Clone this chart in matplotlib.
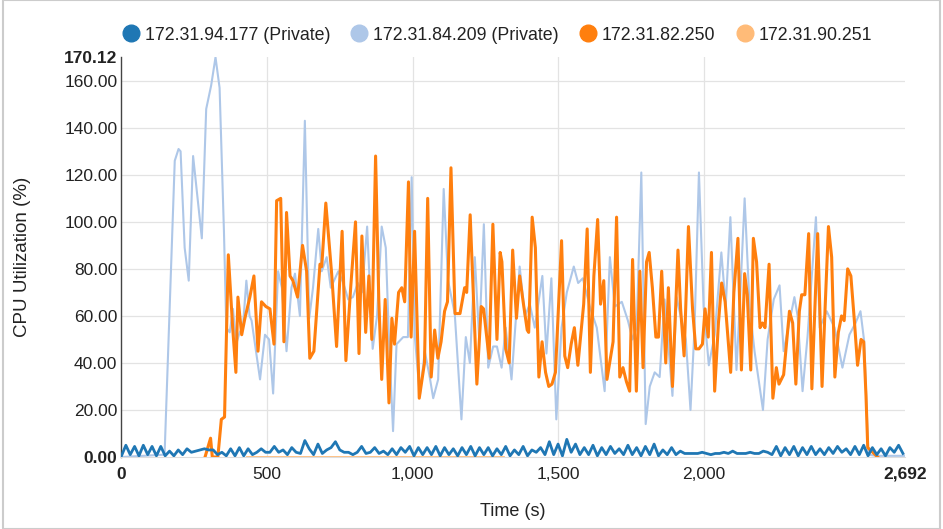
import numpy as np
import matplotlib
matplotlib.use("Agg")
import matplotlib.pyplot as plt
from matplotlib.lines import Line2D
from matplotlib.patches import Rectangle

plt.rcParams['font.family'] = ['Liberation Sans', 'DejaVu Sans']

series_names = ["172.31.94.177 (Private)", "172.31.84.209 (Private)",
                "172.31.82.250", "172.31.90.251"]
colors = ["#1f77b4", "#aec7e8", "#ff7f0e", "#ffbb78"]

# 172.31.94.177 (Private) - sampled every 15 s
dark_t = list(range(0, 2686, 15))
dark_v = [0.5, 5, 1, 4.5, 0.5, 5, 1, 4.5, 0.5, 4.5, 0.5,
          2.5, 0.5, 3, 1, 3.5, 2, 2.5, 3, 3.5, 3,
          3, 1, 2, 0.5, 3.5, 0.5, 4, 0.5, 3.5, 1,
          2, 3.5, 2, 2, 4.5, 2, 3, 1, 4, 2,
          1.5, 7, 3.5, 1, 5.5, 1.5, 3, 4, 6.5, 3,
          2, 2, 1, 2, 4.5, 1.5, 2, 4, 1.5, 2.5,
          1, 3.5, 1, 4, 2, 4.5, 0.5, 4, 1, 4,
          1, 4.5, 0.5, 4, 1, 3.5, 0.5, 4, 1, 4.5,
          0.5, 4, 1, 4, 0.5, 3.5, 1, 4.5, 0.5, 3,
          1, 4.5, 0.5, 3, 2, 4, 1, 6.5, 1, 5.5,
          0.5, 7.5, 2, 5.5, 1, 4, 1, 5, 0.5, 4,
          1, 4.5, 1.5, 3.5, 1, 5, 1, 4, 0.5, 4.5,
          1, 5.5, 0.5, 3, 1, 4, 1, 2.5, 1.5, 1.5,
          1.5, 1.5, 2, 1.5, 1, 1.5, 1.5, 2, 1.5, 2.5,
          1.5, 1.5, 1.5, 2, 1.5, 1.5, 2.5, 2, 1, 4.5,
          0.5, 4, 1, 4.5, 0.5, 4, 1, 4.5, 1, 3.5,
          1, 4, 1.5, 4.5, 2, 3.5, 1, 4.5, 1, 5,
          0.5, 4, 1, 3.5, 0.5, 4, 2, 5, 1.5]

# 172.31.84.209 (Private)
light_t = [0, 148, 183, 196, 203, 217, 231, 246, 263, 276, 291, 308, 323, 337, 352,
           360, 372, 383, 394, 406, 417, 429, 440, 447, 462, 476, 493, 507, 521, 538,
           551, 567, 584, 596, 613, 630, 645, 658, 676, 688, 705, 719, 745, 762, 779,
           795, 812, 826, 844, 863, 878, 894, 908, 919, 933, 945, 968, 984, 997, 1008,
           1025, 1042, 1059, 1071, 1088, 1107, 1122, 1145, 1168, 1183, 1197, 1214, 1229,
           1245, 1260, 1277, 1290, 1306, 1320, 1340, 1368, 1386, 1403, 1420, 1446, 1460,
           1477, 1494, 1512, 1530, 1554, 1569, 1585, 1609, 1633, 1660, 1678, 1695, 1719,
           1740, 1756, 1770, 1786, 1801, 1815, 1832, 1849, 1866, 1893, 1907, 1921, 1939,
           1955, 1969, 1984, 2000, 2018, 2038, 2061, 2076, 2092, 2113, 2124, 2141, 2158,
           2175, 2204, 2220, 2241, 2261, 2275, 2312, 2323, 2340, 2357, 2386, 2399, 2423,
           2450, 2477, 2501, 2522, 2539, 2552, 2566, 2593, 2690]
light_v = [0, 1, 126, 131, 130, 89, 75, 128, 108, 93, 148, 158, 170, 157, 96,
           55, 53, 63, 48, 53, 55, 75, 60, 58, 45, 33, 52, 50, 27, 79,
           72, 45, 72, 78, 60, 143, 59, 72, 97, 79, 85, 72, 79, 74, 67,
           68, 74, 70, 98, 46, 60, 98, 89, 50, 11, 48, 51, 51, 119, 51,
           26, 45, 34, 25, 33, 114, 75, 61, 16, 51, 40, 85, 50,
           99, 38, 47, 47, 38, 55, 33, 81, 60, 65, 55, 77, 44,
           76, 16, 55, 70, 81, 74, 76, 64, 55, 28, 85, 64, 66,
           58, 50, 55, 121, 14, 30, 36, 34, 67, 26, 68, 60, 50,
           20, 55, 121, 64, 39, 52, 87, 64, 102, 37, 64, 110, 64,
           45, 20, 50, 67, 73, 45, 68, 60, 28, 51, 102, 55, 62,
           55, 38, 52, 57, 62, 49, 1, 0.5, 0.5]

# 172.31.82.250
orange_t = [287, 306, 312, 331, 343, 354, 367, 382, 393, 400, 413, 424, 441, 455, 469,
            481, 496, 510, 524, 533, 547, 558, 567, 579, 589, 605, 622, 636, 647, 661,
            682, 688, 702, 722, 739, 758, 771, 788, 804, 816, 826, 839, 850, 860, 873,
            884, 894, 906, 919, 929, 938, 952, 963, 973, 986, 995, 1007, 1023, 1041, 1052,
            1064, 1076, 1087, 1098, 1110, 1120, 1132, 1146, 1163, 1179, 1186, 1198, 1221,
            1236, 1244, 1263, 1276, 1290, 1301, 1307, 1320, 1332, 1344, 1357, 1368, 1380,
            1394, 1399, 1411, 1422, 1434, 1445, 1457, 1468, 1479, 1491, 1512, 1523, 1533,
            1545, 1556, 1568, 1588, 1600, 1611, 1623, 1636, 1646, 1657, 1668, 1689, 1701,
            1712, 1723, 1735, 1746, 1756, 1769, 1781, 1792, 1804, 1813, 1824, 1836, 1845,
            1856, 1870, 1879, 1893, 1912, 1921, 1933, 1948, 1962, 1973, 1984, 1996, 2005,
            2016, 2027, 2038, 2051, 2062, 2074, 2093, 2104, 2118, 2130, 2141, 2150, 2162,
            2171, 2182, 2194, 2202, 2211, 2225, 2238, 2250, 2259, 2275, 2295, 2306, 2317,
            2329, 2337, 2348, 2361, 2372, 2384, 2392, 2407, 2418, 2429, 2440, 2451, 2463,
            2474, 2483, 2495, 2506, 2518, 2529, 2541, 2550, 2558, 2564, 2581, 2598]
orange_v = [0, 8, 0, 0, 16, 17, 86, 55, 36, 68, 52, 59, 68, 77, 45,
            66, 64, 63, 48, 109, 110, 49, 104, 77, 75, 68, 90, 79, 42, 45,
            82, 81, 108, 78, 47, 96, 41, 73, 100, 44, 94, 53, 77, 50, 128,
            67, 33, 67, 23, 59, 48, 70, 72, 66, 117, 51, 96, 25, 40, 110,
            34, 54, 42, 49, 62, 66, 123, 61, 61, 72, 70, 103, 31,
            64, 63, 42, 99, 50, 87, 83, 46, 40, 88, 59, 77, 66,
            54, 53, 102, 89, 34, 49, 36, 30, 31, 36, 92, 43, 38,
            48, 55, 39, 65, 97, 36, 77, 101, 65, 75, 33, 49, 102,
            34, 38, 32, 28, 84, 28, 79, 38, 83, 87, 72, 51, 51,
            79, 40, 72, 30, 88, 63, 43, 98, 63, 46, 46, 48, 63,
            51, 87, 28, 57, 74, 66, 36, 70, 93, 37, 78, 69, 37,
            93, 83, 55, 57, 55, 82, 25, 38, 31, 35, 62, 57, 31,
            62, 69, 69, 95, 29, 69, 95, 30, 65, 98, 85, 34, 53,
            60, 58, 80, 77, 58, 39, 50, 49, 26, 4, 2, 0]

# 172.31.90.251
lorange_t = [430, 1310]
lorange_v = [0, 0]

x_ticks = [0, 500, 1000, 1500, 2000, 2692]
y_ticks = [0, 20, 40, 60, 80, 100, 120, 140, 160, 170.12]

fig = plt.figure(figsize=(9.43, 5.29), dpi=100)
ax = fig.add_axes([121.5 / 943, 1 - 457 / 529, (905 - 121.5) / 943, (457 - 57) / 529])

ax.plot(lorange_t, lorange_v, color=colors[3], lw=2.0, zorder=2)
ax.plot(light_t, light_v, color=colors[1], lw=1.5, zorder=3)
ax.plot(orange_t, orange_v, color=colors[2], lw=2.2, zorder=4)
ax.plot(dark_t, dark_v, color=colors[0], lw=2.0, zorder=5)

ax.set_xlim(0, 2692)
ax.set_ylim(0, 170.12)
ax.set_xticks(x_ticks)
ax.set_yticks(y_ticks)
ax.set_xticklabels([f"{v:,}" for v in x_ticks])
ax.set_yticklabels([f"{v:.2f}" for v in y_ticks])
ax.tick_params(length=0, labelsize=12.5, colors="#222222")
ax.tick_params(axis='y', pad=3)
ax.tick_params(axis='x', pad=7)
for lab in (ax.get_xticklabels()[0], ax.get_xticklabels()[-1],
            ax.get_yticklabels()[0], ax.get_yticklabels()[-1]):
    lab.set_fontweight('bold')

ax.grid(True, color="#e3e3e3", lw=0.9)
ax.set_axisbelow(True)
for gl in (ax.xaxis.get_gridlines()[0], ax.xaxis.get_gridlines()[-1],
           ax.yaxis.get_gridlines()[0], ax.yaxis.get_gridlines()[-1]):
    gl.set_visible(False)

for s in ("top", "right"):
    ax.spines[s].set_visible(False)
ax.spines["left"].set_color("#444444")
ax.spines["left"].set_linewidth(1.0)
ax.spines["bottom"].set_color("#dddddd")

ax.set_ylabel("CPU Utilization (%)", fontsize=13.5, color="#222222")
ax.set_xlabel("Time (s)", fontsize=13, color="#222222")
ax.yaxis.set_label_coords(-0.1155, 0.5)
ax.xaxis.set_label_coords(0.5, -0.115)

handles = [Line2D([], [], linestyle='none', marker='o', markersize=12,
                  markerfacecolor=c, markeredgecolor=c) for c in colors]
fig.legend(handles, series_names, loc='center', bbox_to_anchor=(497 / 943, 1 - 35 / 529),
           ncol=4, frameon=False, fontsize=12.8, handletextpad=0.29, columnspacing=1.13,
           handlelength=1.0, labelcolor="#222222", borderpad=0, borderaxespad=0)

fig.patches.append(Rectangle((3 / 943, 0), 937 / 943, 1, transform=fig.transFigure,
                             fill=False, edgecolor="#cccccc", lw=1.5))

fig.savefig("out.png", dpi=100)
